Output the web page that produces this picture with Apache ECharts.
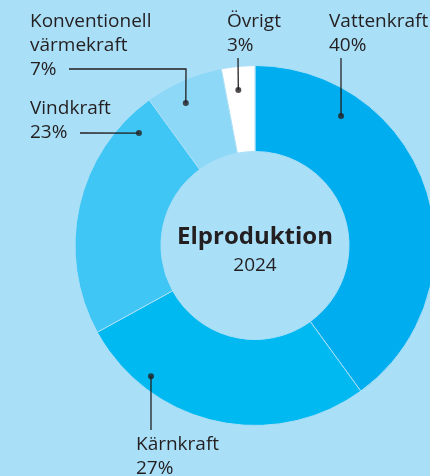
<!DOCTYPE html>
<html>
<head>
<meta charset="utf-8">
<script src="https://cdn.jsdelivr.net/npm/echarts@6/dist/echarts.min.js"></script>
<style>
  html, body { margin: 0; padding: 0; background: #aadff8; }
  #chart { width: 430px; height: 476px; }
</style>
</head>
<body>
<div id="chart"></div>
<script>
// data
const categories = ['Vattenkraft', 'Kärnkraft', 'Vindkraft', 'Konventionell\nvärmekraft', 'Övrigt'];
const shares = [40, 27, 23, 7, 3];
const sliceColors = ['#00aeef', '#00b9f1', '#3fc6f4', '#8cd8f6', '#ffffff'];

// where the leader dots sit (angle in % of the ring, radius in px) and where labels go
const dotAngle = [9.33, 60.7, 87.25, 92.8, 98.3];
const dotRadius = [155.5, 167, 161.6, 158.3, 156.4];
const labelPos = [[329, 10], [136, 433], [30, 97], [30, 10], [227, 10]];
const lineEnds = [[[341, 58]], [[151, 430]], [[80, 133]], [[186, 69], [69, 69]], [[238, 58]]];

const cx = 255, cy = 245.5;
const ink = '#231f20';
const font = 'Open Sans';

function dotPixel(i) {
  const a = dotAngle[i] / 100 * Math.PI * 2;
  return [cx + dotRadius[i] * Math.sin(a), cy - dotRadius[i] * Math.cos(a)];
}

const chart = echarts.init(document.getElementById('chart'));
chart.setOption({
  backgroundColor: '#aadff8',
  animation: false,
  textStyle: { fontFamily: font },
  polar: { center: [cx, cy], radius: 180 },
  angleAxis: { type: 'value', min: 0, max: 100, startAngle: 90, clockwise: true, show: false },
  radiusAxis: { type: 'value', min: 0, max: 180, show: false },
  graphic: [
    { type: 'text', x: cx, y: 237, style: { text: 'Elproduktion', textAlign: 'center', textVerticalAlign: 'middle', font: 'bold 24px "Open Sans"', fill: ink } },
    { type: 'text', x: cx, y: 266, style: { text: '2024', textAlign: 'center', textVerticalAlign: 'middle', font: '19px "Open Sans"', fill: ink } }
  ],
  series: [
    {
      // the coloured ring
      type: 'pie',
      center: [cx, cy],
      radius: [94, 180],
      startAngle: 90,
      clockwise: true,
      silent: true,
      itemStyle: { borderColor: '#aadff8', borderWidth: 1 },
      label: { show: false },
      labelLine: { show: false },
      data: categories.map((c, i) => ({ name: c, value: shares[i], itemStyle: { color: sliceColors[i] } }))
    },
    {
      // transparent copy on top that carries the labels and leader lines
      type: 'pie',
      z: 4,
      center: [cx, cy],
      radius: [94, 180],
      startAngle: 90,
      clockwise: true,
      silent: true,
      avoidLabelOverlap: false,
      itemStyle: { color: 'rgba(0,0,0,0)' },
      label: {
        show: true,
        formatter: '{b}\n{c}%',
        fontFamily: font,
        fontSize: 19,
        lineHeight: 24,
        color: ink
      },
      labelLine: { show: true, lineStyle: { color: ink, width: 1.3 } },
      labelLayout: function (p) {
        const i = p.dataIndex;
        const pts = [dotPixel(i)].concat(lineEnds[i]);
        while (pts.length < 3) pts.push(pts[pts.length - 1]);
        return {
          x: labelPos[i][0],
          y: labelPos[i][1],
          align: 'left',
          verticalAlign: 'top',
          labelLinePoints: pts
        };
      },
      data: categories.map((c, i) => ({ name: c, value: shares[i] }))
    },
    {
      type: 'scatter',
      coordinateSystem: 'polar',
      symbolSize: 6,
      z: 5,
      silent: true,
      itemStyle: { color: ink },
      data: dotAngle.map((a, i) => [dotRadius[i], a])
    }
  ]
});
</script>
</body>
</html>
